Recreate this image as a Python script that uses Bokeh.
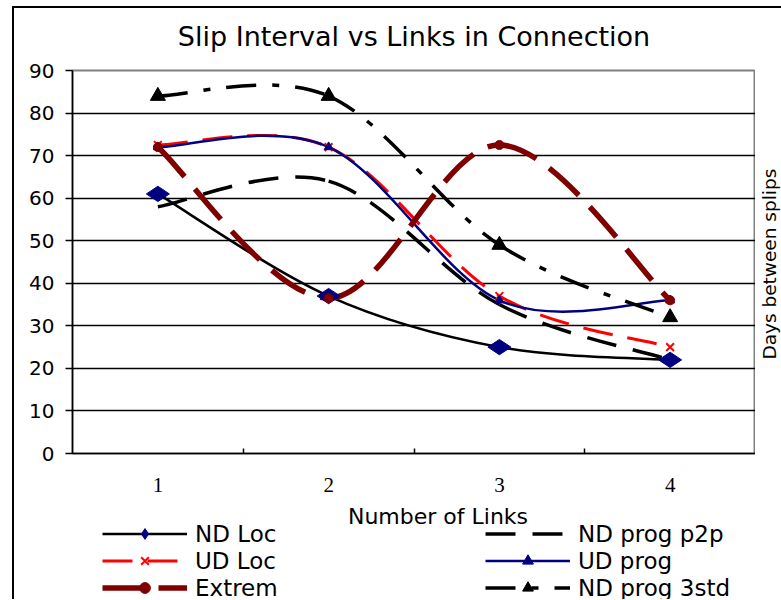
import math
from bokeh.plotting import figure
from bokeh.layouts import column, row
from bokeh.models import (FixedTicker, Legend, LegendItem, Range1d, ColumnDataSource, Label)
from bokeh.embed import file_html
from bokeh.resources import INLINE

# ---- data ----
links = [1, 2, 3, 4]
link_labels = ["1", "2", "3", "4"]
nd_loc = [61, 37, 25, 22]
nd_prog_p2p = [58, 64, 35, 22]
ud_loc = [72.5, 72, 37, 25]
ud_prog = [72, 72, 36, 36]
extrem = [72, 36.5, 72.5, 36]
nd_prog_3std = [84, 84, 49, 32]
y_ticks = [0, 10, 20, 30, 40, 50, 60, 70, 80, 90]

FONT = "DejaVu Sans"

# page layout (pixels)
FL, FR, FT, FB = 72, 755, 69, 453   # plot frame edges
TOTAL_W = 781
MAIN_H = 500
LEG_H = 99


def smooth_segments(xs, ys):
    """Bezier control points for a smoothed (spreadsheet-style) line."""
    pts = list(zip(xs, ys))
    n = len(pts)
    d = {k: [] for k in ("x0", "y0", "x1", "y1", "cx0", "cy0", "cx1", "cy1")}
    for i in range(n - 1):
        pa = pts[max(i - 1, 0)]
        p1 = pts[i]
        p2 = pts[i + 1]
        pb = pts[min(i + 2, n - 1)]
        d["x0"].append(p1[0]); d["y0"].append(p1[1])
        d["x1"].append(p2[0]); d["y1"].append(p2[1])
        d["cx0"].append(p1[0] + (p2[0] - pa[0]) / 6.0)
        d["cy0"].append(p1[1] + (p2[1] - pa[1]) / 6.0)
        d["cx1"].append(p2[0] - (pb[0] - p1[0]) / 6.0)
        d["cy1"].append(p2[1] - (pb[1] - p1[1]) / 6.0)
    return ColumnDataSource(d)


p = figure(width=FR, height=MAIN_H, output_backend="svg", toolbar_location=None,
           x_range=Range1d(0.5, 4.5), y_range=Range1d(y_ticks[0], y_ticks[-1]),
           min_border_left=FL, min_border_right=0, min_border_top=FT,
           min_border_bottom=MAIN_H - FB, background_fill_color="white",
           border_fill_color=None)

p.title.text = "Slip Interval vs Links in Connection"
p.title.align = "center"
p.title.text_font = FONT
p.title.text_font_size = "27px"
p.title.text_font_style = "normal"
p.title.text_color = "black"
p.title.standoff = 37

p.outline_line_color = "#808080"
p.outline_line_width = 2

# axes
p.xaxis.ticker = FixedTicker(ticks=links, minor_ticks=[1.5, 2.5, 3.5])
p.xaxis.major_label_overrides = {x: lab for x, lab in zip(links, link_labels)}
p.xaxis.major_tick_line_color = None
p.xaxis.major_tick_in = 0
p.xaxis.major_tick_out = 0
p.xaxis.minor_tick_in = 5
p.xaxis.minor_tick_out = 0
p.xaxis.minor_tick_line_color = "black"
p.xaxis.minor_tick_line_width = 1.5
p.xaxis.major_label_text_font = "Liberation Serif"
p.xaxis.major_label_text_font_size = "21px"
p.xaxis.major_label_text_color = "black"
p.xaxis.major_label_standoff = 24
p.xaxis.axis_line_color = "black"
p.xaxis.axis_line_width = 1.5

p.yaxis.ticker = FixedTicker(ticks=y_ticks)
p.yaxis.major_tick_in = 0
p.yaxis.major_tick_out = 7
p.yaxis.major_tick_line_color = "black"
p.yaxis.major_tick_line_width = 1.5
p.yaxis.minor_tick_line_color = None
p.yaxis.major_label_text_font = FONT
p.yaxis.major_label_text_font_size = "20px"
p.yaxis.major_label_text_color = "black"
p.yaxis.major_label_standoff = 11
p.yaxis.axis_line_color = "black"
p.yaxis.axis_line_width = 1.5

p.xgrid.grid_line_color = None
p.ygrid.ticker = FixedTicker(ticks=y_ticks[1:-1])
p.ygrid.grid_line_color = "black"
p.ygrid.grid_line_width = 1.5

series = [
    ("ND Loc", nd_loc,
     dict(line_color="black", line_width=2.5),
     dict(marker="diamond", size=23, angle=math.pi / 2, fill_color="#000080", line_color="#000080")),
    ("ND prog p2p", nd_prog_p2p,
     dict(line_color="black", line_width=3.5, line_dash="30 17"),
     None),
    ("UD Loc", ud_loc,
     dict(line_color="#FF0000", line_width=3, line_dash="30 15"),
     dict(marker="x", size=11, line_color="#FF0000", line_width=2)),
    ("UD prog", ud_prog,
     dict(line_color="#000080", line_width=2.5),
     dict(marker="triangle", size=9, fill_color="#000080", line_color="#000080")),
    ("Extrem", extrem,
     dict(line_color="#800000", line_width=5.5, line_dash="40 16"),
     dict(marker="circle", size=9, fill_color="#800000", line_color="#800000")),
    ("ND prog 3std", nd_prog_3std,
     dict(line_color="black", line_width=3.5, line_dash="30 16 7 16"),
     dict(marker="triangle", size=15, fill_color="black", line_color="black")),
]
# legend keys are drawn unrotated
legend_marker = {"ND Loc": dict(marker="diamond", size=21, fill_color="#000080", line_color="#000080")}

for name, ys, lstyle, mstyle in series:
    p.bezier(x0="x0", y0="y0", x1="x1", y1="y1", cx0="cx0", cy0="cy0",
             cx1="cx1", cy1="cy1", source=smooth_segments(links, ys), **lstyle)
for name, ys, lstyle, mstyle in series:
    if mstyle is not None:
        p.scatter(links, ys, **mstyle)

# ---- right strip: y-axis title reading bottom-to-top ----
pr = figure(width=TOTAL_W - FR, height=MAIN_H, output_backend="svg", toolbar_location=None,
            x_range=Range1d(FR, TOTAL_W), y_range=Range1d(y_ticks[0], y_ticks[-1]),
            x_axis_type=None, y_axis_type=None, min_border_left=0, min_border_right=0,
            min_border_top=FT, min_border_bottom=MAIN_H - FB,
            outline_line_color=None, background_fill_color=None, border_fill_color=None)
pr.xgrid.visible = False
pr.ygrid.visible = False
pr.add_layout(Label(x=768.5, y=44.5, text="Days between splips", text_font=FONT,
                    text_font_size="18.5px", text_align="center", text_baseline="middle",
                    angle=90, angle_units="deg", text_color="black"))

# ---- legend strip below the chart (page-pixel coordinates) ----
pl = figure(width=TOTAL_W, height=LEG_H, output_backend="svg", toolbar_location=None,
            x_range=Range1d(FL, FR), y_range=Range1d(0, LEG_H),
            x_axis_type=None, y_axis_type=None,
            min_border_left=FL, min_border_right=TOTAL_W - FR,
            min_border_top=0, min_border_bottom=0,
            outline_line_color=None, background_fill_color=None,
            border_fill_color=None)
pl.xgrid.visible = False
pl.ygrid.visible = False

key = {}
for name, ys, lstyle, mstyle in series:
    # legend keys (their data lies outside this strip's visible range)
    rs = [pl.line(links, ys, **lstyle)]
    ms = legend_marker.get(name, mstyle)
    if ms is not None:
        rs.append(pl.scatter(links, ys, **ms))
    key[name] = rs

order = ["ND Loc", "UD Loc", "Extrem", "ND prog p2p", "UD prog", "ND prog 3std"]
legend = Legend(items=[LegendItem(label=n, renderers=key[n]) for n in order],
                ncols=2, location=(102 - FL, -2),
                glyph_width=85, glyph_height=27, label_width=290,
                label_standoff=8, spacing=0, padding=0, margin=0,
                border_line_color=None, background_fill_alpha=0,
                label_text_font=FONT, label_text_font_size="23px",
                label_text_color="black")
pl.add_layout(legend, "center")

pl.add_layout(Label(x=437.5, y=LEG_H - 16, text="Number of Links", text_font=FONT,
                    text_font_size="22px", text_align="center",
                    text_baseline="alphabetic", text_color="black"))

layout = column(row(p, pr), pl, styles={
    "background-color": "white",
    "background-image": "linear-gradient(#000, #000), linear-gradient(#000, #000)",
    "background-size": "100% 2px, 2px 100%",
    "background-position": "12px 6px, 12px 6px",
    "background-repeat": "no-repeat",
})

open("out.html", "w").write(file_html(layout, INLINE))
